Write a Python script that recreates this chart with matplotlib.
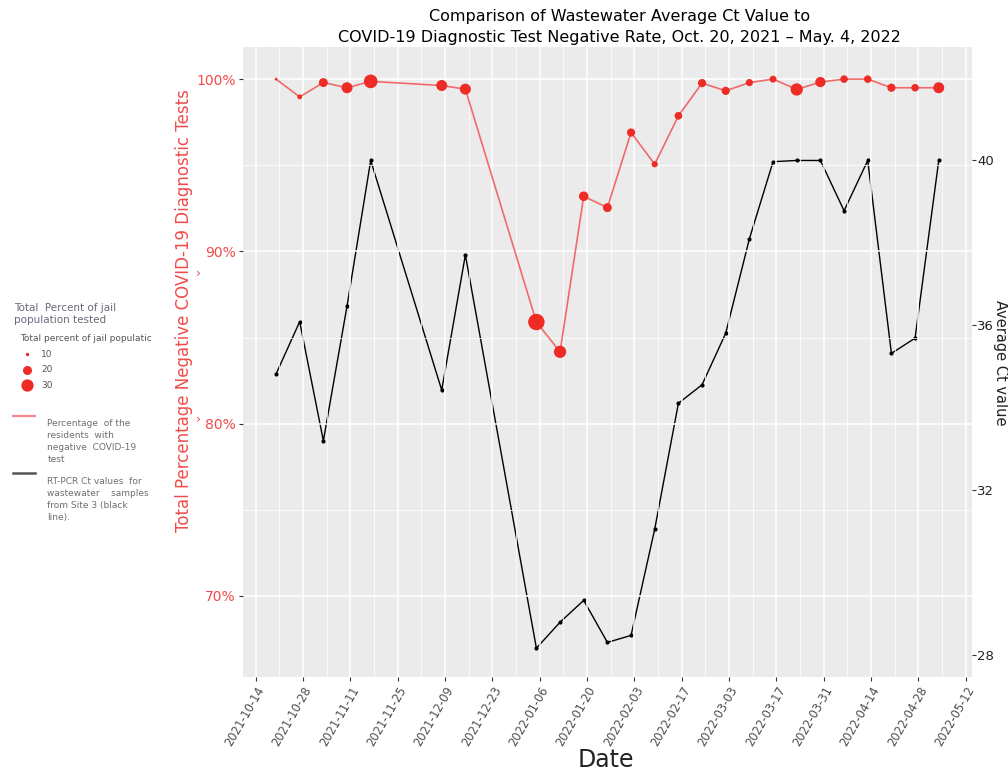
import numpy as np
import pandas as pd
import matplotlib
matplotlib.use("Agg")
import matplotlib.pyplot as plt
import matplotlib.dates as mdates

dates = pd.to_datetime([
    "2021-10-20", "2021-10-27", "2021-11-03", "2021-11-10", "2021-11-17",
    "2021-12-08", "2021-12-15", "2022-01-05", "2022-01-12", "2022-01-19",
    "2022-01-26", "2022-02-02", "2022-02-09", "2022-02-16", "2022-02-23",
    "2022-03-02", "2022-03-09", "2022-03-16", "2022-03-23", "2022-03-30",
    "2022-04-06", "2022-04-13", "2022-04-20", "2022-04-27", "2022-05-04"])
neg_rate = [100.0, 98.97, 99.8, 99.5, 99.87, 99.63, 99.42, 85.9, 84.17, 93.2,
            92.54, 96.9, 95.06, 97.87, 99.77, 99.32, 99.8, 100.0, 99.4, 99.83,
            100.0, 100.0, 99.5, 99.5, 99.5]
pct_tested = [9.4, 11.7, 19.7, 25.6, 35.0, 25.6, 25.6, 46.9, 30.0, 21.4,
              19.7, 18.0, 13.8, 16.8, 18.0, 18.0, 15.7, 15.1, 30.0, 23.4,
              16.4, 16.4, 18.0, 16.4, 25.6]
ct_value = [34.82, 36.09, 33.2, 36.47, 40.0, 34.43, 37.71, 28.17, 28.8, 29.33,
            28.31, 28.48, 31.06, 34.11, 34.56, 35.81, 38.1, 39.97, 40.0, 40.0,
            38.78, 40.0, 35.32, 35.69, 40.0]
size_legend = [10, 20, 30]

red = "#EE2B24"
red_line = "#F06A6A"
panel = "#EBEBEB"


def marker_area(v):
    # area grows linearly with percent tested (pt^2 at 100 dpi)
    return np.maximum(7.0 * (np.asarray(v, float) - 8.36), 4) * 0.5184


fig = plt.figure(figsize=(10.08, 7.72), dpi=100)
ax = fig.add_axes([0.241, 0.123, 0.723, 0.816])
ax2 = ax.twinx()

for sp in list(ax.spines.values()) + list(ax2.spines.values()):
    sp.set_visible(False)

ax.set_xlim(pd.Timestamp("2021-10-10 05:00"), pd.Timestamp("2022-05-13 18:00"))
ax.set_ylim(65.29, 101.86)
ax2.set_ylim(27.47, 42.75)

ticks = pd.date_range("2021-10-14", "2022-05-12", freq="14D")
ax.set_xticks(ticks)
ax.set_xticks(ticks[:-1] + pd.Timedelta(days=7), minor=True)
ax.xaxis.set_major_formatter(mdates.DateFormatter("%Y-%m-%d"))
ax.set_yticks([70, 80, 90, 100])
ax.set_yticks([75, 85, 95], minor=True)
ax.set_yticklabels(["70%", "80%", "90%", "100%"])
ax2.set_yticks([28, 32, 36, 40])

ax.grid(which="major", color="white", lw=1.1)
ax.grid(which="minor", color="white", lw=0.55)

ax.tick_params(axis="x", which="major", length=3, color="#333333", labelsize=8.3,
               labelcolor="#4D4D4D", pad=2)
ax.tick_params(axis="both", which="minor", length=0)
ax.tick_params(axis="y", length=3, color="#333333", labelsize=10,
               labelcolor="#F04B4B", pad=2)
ax2.tick_params(axis="y", length=3, color="#333333", labelsize=9.5,
                labelcolor="#222222", pad=1)
for lab in ax.get_xticklabels():
    lab.set_rotation(60)
    lab.set_ha("right")
    lab.set_rotation_mode("anchor")

# primary axis drawn on top of the twin; twin carries the grey panel
ax.set_zorder(ax2.get_zorder() + 1)
ax.patch.set_visible(False)
ax2.patch.set_visible(True)
ax2.patch.set_facecolor(panel)
ax2.set_zorder(ax.get_zorder() - 1)

# wastewater Ct series on the secondary axis
ax2.plot(dates, ct_value, color="black", lw=1.0, zorder=2)
ax2.scatter(dates, ct_value, s=9, color="black", zorder=3, linewidths=0)

# negative test rate on the primary axis
ax.plot(dates, neg_rate, color=red_line, lw=1.2, zorder=2)
ax.scatter(dates, neg_rate, s=marker_area(pct_tested), color=red,
           linewidths=0, zorder=3)

fig.text(0.601, 0.0155, "Date", fontsize=17, color="#222222",
         ha="center", va="center")
fig.text(0.1825, 0.598, "Total Percentage Negative COVID-19 Diagnostic Tests",
         fontsize=12, color="#F04B4B", rotation=90, ha="center", va="center")
fig.text(0.993, 0.53, "Average Ct value", fontsize=10.5, color="#222222",
         rotation=270, ha="center", va="center")

fig.text(0.615, 0.978, "Comparison of Wastewater Average Ct Value to",
         ha="center", va="center", fontsize=11.5)
fig.text(0.615, 0.952,
         "COVID-19 Diagnostic Test Negative Rate, Oct. 20, 2021 \u2013 May. 4, 2022",
         ha="center", va="center", fontsize=11.5)

fig.text(0.197, 0.646, "\u203a", fontsize=9, color="#F04B4B", ha="center", va="center")
fig.text(0.197, 0.457, "\u203a", fontsize=9, color="#F04B4B", ha="center", va="center")

# legend drawn by hand at the left margin
grey = "#6E6E6E"
fig.text(0.014, 0.593, "Total  Percent of jail\npopulation tested", fontsize=7.5,
         color="#6A6A7A", ha="left", va="center", linespacing=1.3)
fig.text(0.02, 0.562, "Total percent of jail populatic", fontsize=6.5,
         color="#555555", ha="left", va="center")
leg_y = [0.541, 0.521, 0.501]
for yv, v in zip(leg_y, size_legend):
    fig.add_artist(plt.Line2D([0.027], [yv], marker="o", ms=np.sqrt(marker_area(v)),
                              color=red, mew=0, transform=fig.transFigure))
    fig.text(0.041, yv, str(v), fontsize=6.5, color="#555555", va="center")

fig.add_artist(plt.Line2D([0.013, 0.035], [0.461, 0.461], color="#F28A8A", lw=1.6,
                          transform=fig.transFigure))
fig.text(0.047, 0.428, "Percentage  of the\nresidents  with\nnegative  COVID-19\ntest",
         fontsize=6.5, color=grey, ha="left", va="center", linespacing=1.45)
fig.add_artist(plt.Line2D([0.013, 0.035], [0.387, 0.387], color="#555555", lw=1.8,
                          transform=fig.transFigure))
fig.text(0.047, 0.353, "RT-PCR Ct values  for\nwastewater    samples\nfrom Site 3 (black\nline).",
         fontsize=6.5, color=grey, ha="left", va="center", linespacing=1.45)

fig.savefig("out.png", dpi=100)
